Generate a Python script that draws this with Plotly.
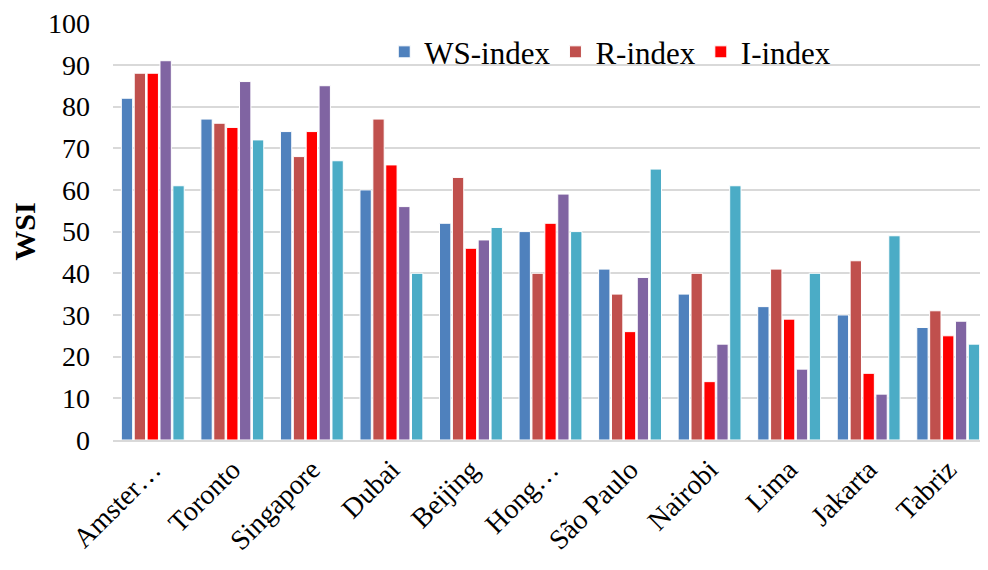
import plotly.graph_objects as go

cities = ["Amster…", "Toronto", "Singapore", "Dubai", "Beijing", "Hong…",
          "São Paulo", "Nairobi", "Lima", "Jakarta", "Tabriz"]
ws_index = [82, 77, 74, 60, 52, 50, 41, 35, 32, 30, 27]
r_index = [88, 76, 68, 77, 63, 40, 35, 40, 41, 43, 31]
i_index = [88, 75, 74, 66, 46, 52, 26, 14, 29, 16, 25]
series4 = [91, 86, 85, 56, 48, 59, 39, 23, 17, 11, 28.5]
series5 = [61, 72, 67, 40, 51, 50, 65, 61, 40, 49, 23]
y_ticks = [0, 10, 20, 30, 40, 50, 60, 70, 80, 90, 100]

series = [
    ("WS-index", ws_index, "#4F81BD", True),
    ("R-index", r_index, "#C0504D", True),
    ("I-index", i_index, "#FF0000", True),
    ("Series 4", series4, "#8064A2", False),
    ("Series 5", series5, "#4BACC6", False),
]

fig = go.Figure()
for name, vals, color, show in series:
    fig.add_trace(go.Bar(
        x=cities, y=vals, name=name, showlegend=show,
        marker=dict(color=color, line=dict(color="white", width=1)),
    ))

font_family = "'Liberation Serif', 'Times New Roman', serif"
fig.update_layout(
    width=980, height=562,
    barmode="group", bargap=0.19, bargroupgap=0.12,
    plot_bgcolor="white", paper_bgcolor="white",
    margin=dict(l=105, r=0, t=15, b=130),
    font=dict(family=font_family, size=28, color="black"),
    legend=dict(orientation="h", x=0.31, y=0.93, xanchor="left", yanchor="middle",
                font=dict(size=31, family=font_family), bgcolor="rgba(0,0,0,0)",
                itemwidth=30, traceorder="normal"),
    xaxis=dict(tickangle=-45, tickfont=dict(size=28, family=font_family), showline=True,
               linecolor="#d9d9d9", linewidth=2, ticks=""),
    yaxis=dict(range=[0, 100.05], tickmode="array", tickvals=y_ticks,
               ticktext=[str(v) for v in y_ticks],
               showgrid=True, gridcolor="#d9d9d9",
               gridwidth=2, zeroline=False, tickfont=dict(size=28, family=font_family),
               ticklabelstandoff=22,
               title=dict(text="<b>WSI</b>", font=dict(size=30, family=font_family),
                          standoff=20)),
)

fig.write_html("out.html")
